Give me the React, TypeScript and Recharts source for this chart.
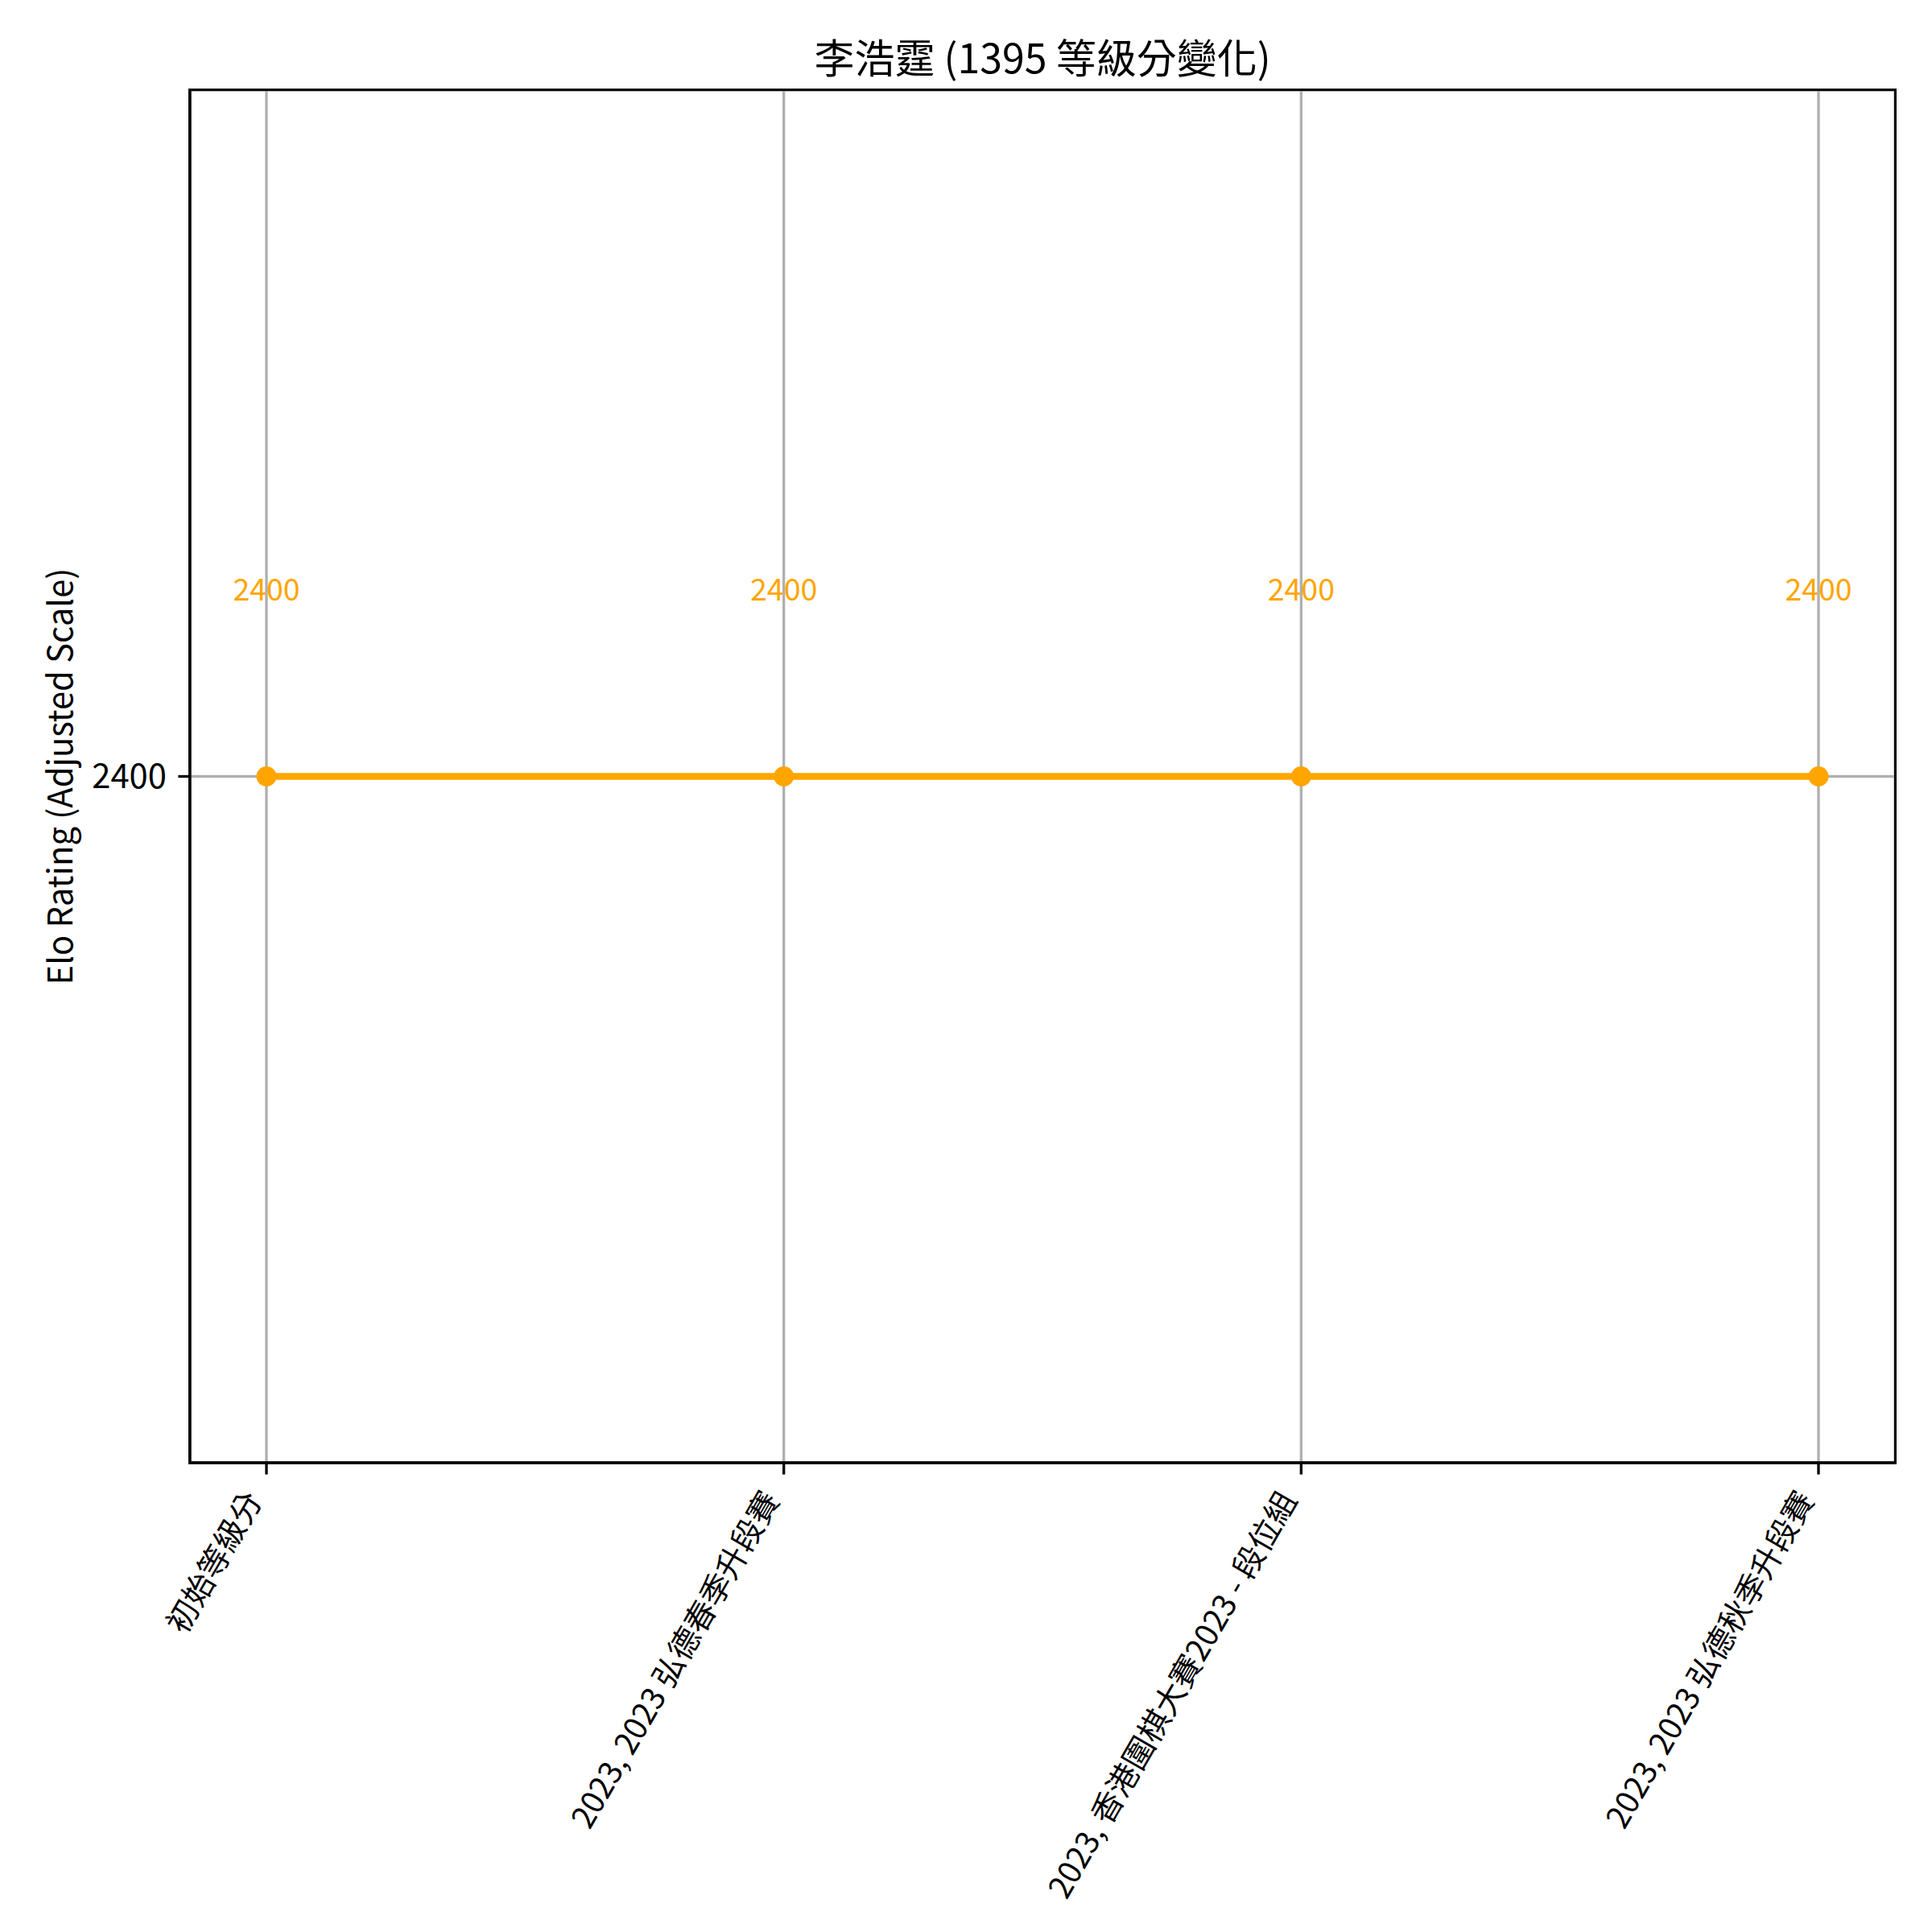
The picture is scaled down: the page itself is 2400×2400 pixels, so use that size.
import { LineChart, Line, XAxis, YAxis, CartesianGrid, LabelList } from "recharts";

const events = [
  "初始等級分",
  "2023, 2023 弘德春季升段賽",
  "2023, 香港圍棋大賽2023 - 段位組",
  "2023, 2023 弘德秋季升段賽",
];
const ratings = [2400, 2400, 2400, 2400];
const yTicks = [2400];
const yDomain = [2300, 2500];

const FONT = '"Noto Sans CJK TC", "Noto Sans", sans-serif';
const ORANGE = "#ffa500";
const GRID = "#b0b0b0";
const LW = 3.33;
const TICK_LEN = 14.6;

const data = events.map((event, i) => ({ event, rating: ratings[i] }));

function XTick(props: any) {
  const { x, y, payload } = props;
  const tx = x - 4;
  const ty = y + 17;
  return (
    <text
      x={tx}
      y={ty}
      transform={`rotate(-60, ${tx}, ${ty})`}
      textAnchor="end"
      fontSize={39}
      fontFamily={FONT}
      fill="#000"
    >
      {payload.value}
    </text>
  );
}

const renderYLabel = (props: any) => {
  const vb = props.viewBox;
  const cx = vb.x + 72;
  const cy = vb.y + vb.height / 2;
  return (
    <text
      x={cx}
      y={cy}
      transform={`rotate(-90, ${cx}, ${cy})`}
      textAnchor="middle"
      dominantBaseline="central"
      fontSize={41.7}
      fontFamily={FONT}
      fill="#000"
    >
      Elo Rating (Adjusted Scale)
    </text>
  );
};

const renderPointLabel = (props: any) => {
  const { x, y, value } = props;
  return (
    <text
      x={x}
      y={y - 235}
      textAnchor="middle"
      dominantBaseline="central"
      fontSize={37.5}
      fontFamily={FONT}
      fill={ORANGE}
    >
      {value}
    </text>
  );
};

export default function App() {
  return (
    <div style={{ position: "absolute", left: 0, top: 0, width: 2400, height: 2400, background: "#fff" }}>
      <div
        style={{
          position: "absolute",
          left: 236,
          width: 2118,
          top: 44,
          lineHeight: "50px",
          textAlign: "center",
          fontSize: 50,
          fontFamily: FONT,
          color: "#000",
        }}
      >
        李浩霆 (1395 等級分變化)
      </div>
      <LineChart width={2400} height={2400} data={data} margin={{ top: 112, right: 46, bottom: 0, left: 0 }}>
        <CartesianGrid stroke={GRID} strokeWidth={LW} />
        <XAxis
          dataKey="event"
          interval={0}
          height={583}
          padding={{ left: 95, right: 95 }}
          axisLine={{ stroke: "#000", strokeWidth: LW }}
          tickLine={{ stroke: "#000", strokeWidth: LW }}
          tickSize={TICK_LEN}
          tickMargin={TICK_LEN}
          tick={<XTick />}
        />
        <YAxis
          width={236}
          domain={yDomain}
          ticks={yTicks}
          axisLine={{ stroke: "#000", strokeWidth: LW }}
          tickLine={{ stroke: "#000", strokeWidth: LW }}
          tickSize={TICK_LEN}
          tickMargin={TICK_LEN}
          tick={{ fill: "#000", fontSize: 41.7, fontFamily: FONT }}
          label={{ content: renderYLabel }}
        />
        <Line
          dataKey="rating"
          stroke={ORANGE}
          strokeWidth={8.3}
          dot={{ r: 12.5, fill: ORANGE, stroke: "none" }}
          activeDot={false}
          isAnimationActive={false}
        >
          <LabelList dataKey="rating" content={renderPointLabel} />
        </Line>
      </LineChart>
      {/* axes frame (top/right spines) */}
      <div
        style={{
          position: "absolute",
          boxSizing: "border-box",
          left: 236 - LW / 2,
          top: 112 - LW / 2,
          width: 2118 + LW,
          height: 1705 + LW,
          border: `${LW}px solid #000`,
          pointerEvents: "none",
        }}
      />
    </div>
  );
}
